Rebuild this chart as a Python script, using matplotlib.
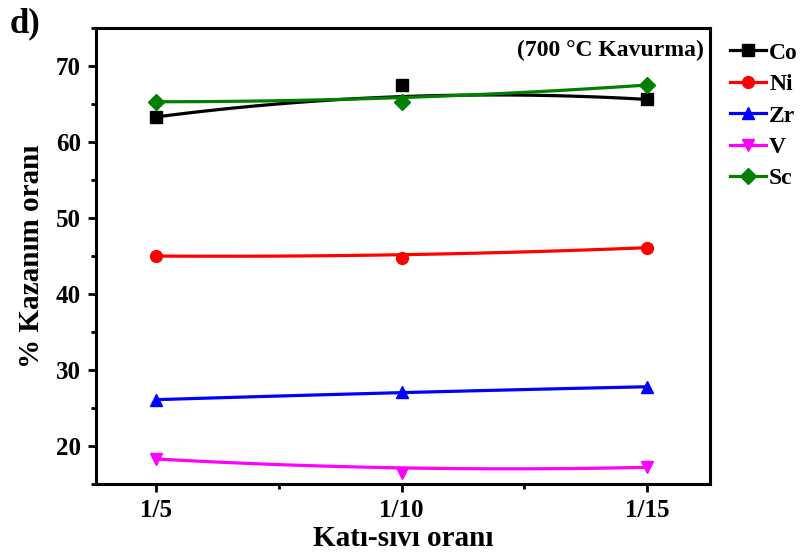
import numpy as np
import matplotlib
matplotlib.use("Agg")
import matplotlib.pyplot as plt
from matplotlib.ticker import MultipleLocator

plt.rcParams['font.family'] = ['Liberation Serif', 'DejaVu Serif']
plt.rcParams['font.weight'] = 'bold'

ratios = ['1/5', '1/10', '1/15']
co = [63.3, 67.5, 65.6]
ni = [45.0, 44.8, 46.1]
zr = [26.1, 27.1, 27.8]
v = [18.3, 16.5, 17.2]
sc = [65.3, 65.3, 67.5]

series = [
    ('Co', co, 'black', 's'),
    ('Ni', ni, 'red', 'o'),
    ('Zr', zr, 'blue', '^'),
    ('V', v, 'magenta', 'v'),
    ('Sc', sc, 'green', 'D'),
]


def bspline(x, y, n=100):
    # quadratic Bezier using the three points as control points
    t = np.linspace(0, 1, n)
    x = np.asarray(x, float)
    y = np.asarray(y, float)
    bx = (1 - t) ** 2 * x[0] + 2 * t * (1 - t) * x[1] + t ** 2 * x[2]
    by = (1 - t) ** 2 * y[0] + 2 * t * (1 - t) * y[1] + t ** 2 * y[2]
    return bx, by


xpos = np.arange(1, len(ratios) + 1)

fig = plt.figure(figsize=(8.03, 5.57), dpi=100)
ax = fig.add_axes([0.1196, 0.131, 0.7644, 0.8187])

for name, vals, color, marker in series:
    sx, sy = bspline(xpos, vals)
    ax.plot(sx, sy, color=color, lw=2.3)
    ax.plot(xpos, vals, linestyle='none', marker=marker, color=color, markersize=8.5)
    ax.plot([], [], color=color, lw=2.3, marker=marker, markersize=8.5, label=name)

ax.set_xlim(0.755, 3.255)
ax.set_ylim(15, 75)
ax.set_xticks(xpos)
ax.set_xticklabels(ratios)
ax.xaxis.set_minor_locator(MultipleLocator(0.5))
ax.yaxis.set_minor_locator(MultipleLocator(5))
ax.set_yticks([20, 30, 40, 50, 60, 70])

for s in ax.spines.values():
    s.set_linewidth(2.2)
ax.tick_params(which='major', direction='out', length=6, width=2, labelsize=18, pad=5)
ax.tick_params(which='minor', direction='out', length=3.5, width=2)
for lbl in ax.get_xticklabels() + ax.get_yticklabels():
    lbl.set_fontweight('bold')

ax.set_xlabel('Katı-sıvı oranı', fontsize=21, fontweight='bold', labelpad=2)
ax.set_ylabel('% Kazanım oranı', fontsize=21, fontweight='bold', labelpad=8)

ax.text(0.99, 0.95, '(700 °C Kavurma)', transform=ax.transAxes, ha='right', va='center',
        fontsize=17, fontweight='bold')
fig.text(0.012, 0.958, 'd)', fontsize=25, fontweight='bold', va='center')

ax.legend(loc='upper left', bbox_to_anchor=(1.01, 1.0), frameon=False,
          handlelength=1.5, handletextpad=0.15, labelspacing=0.42, borderaxespad=0.2,
          prop={'weight': 'bold', 'size': 17})

fig.savefig('out.png', dpi=100)
